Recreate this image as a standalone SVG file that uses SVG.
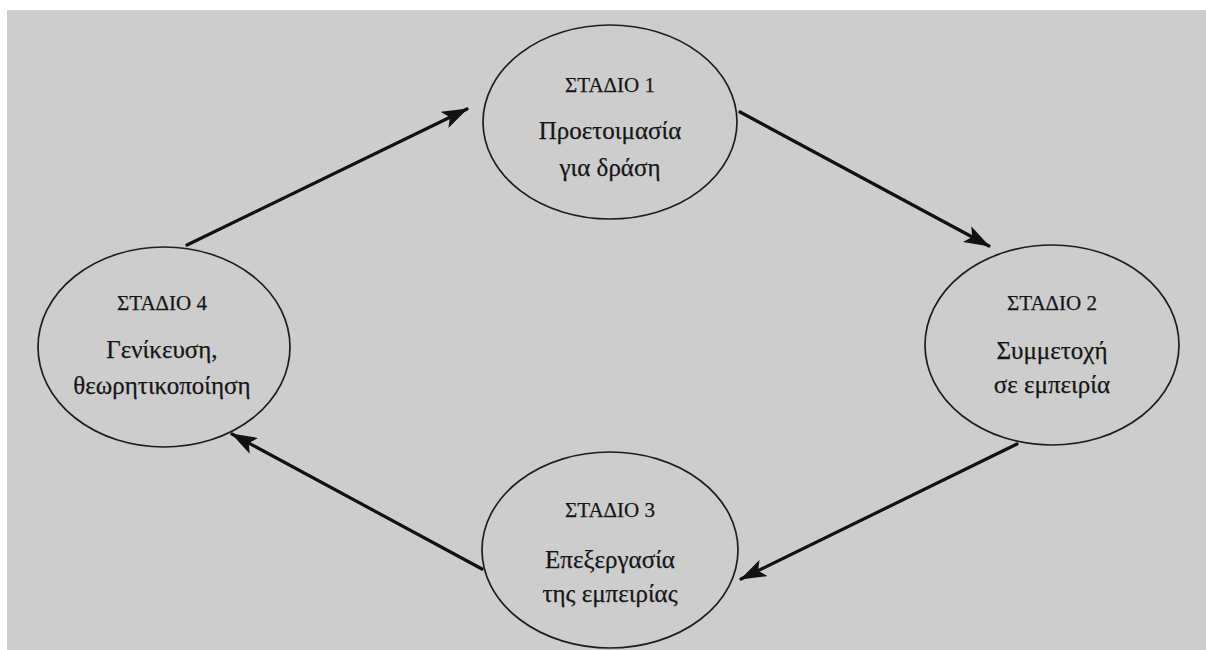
<svg xmlns="http://www.w3.org/2000/svg" width="1206" height="650" viewBox="0 0 1206 650">
<style>
.bg{fill:#cdcdcd}
.node ellipse{fill:#cdcdcd;stroke:#1e1e1e;stroke-width:1.7}
.t{font-family:"Liberation Serif","DejaVu Serif",serif;fill:#161616;stroke:#161616;stroke-width:0.25;text-anchor:middle}
.h{font-size:21px}
.b{font-size:25px}
.conn line{stroke:#111;stroke-width:3.2;stroke-linecap:round}
</style>
<defs>
<marker id="ah" viewBox="0 0 26 18" refX="25" refY="9" markerUnits="userSpaceOnUse" markerWidth="26" markerHeight="18" orient="auto">
<path d="M0,0 L26,9 L0,18 L6,9 Z" fill="#111"/>
</marker>
</defs>
<rect x="0" y="0" width="1206" height="650" fill="#ffffff"/>
<rect class="bg" x="7" y="10" width="1199" height="640"/>
<g class="conn">
<line x1="187" y1="245" x2="467" y2="109" marker-end="url(#ah)"/>
<line x1="740" y1="112" x2="989" y2="246" marker-end="url(#ah)"/>
<line x1="1017" y1="444" x2="741" y2="579" marker-end="url(#ah)"/>
<line x1="482" y1="569" x2="232" y2="434" marker-end="url(#ah)"/>
</g>
<g id="stage1" class="node">
<ellipse cx="610" cy="122" rx="127" ry="97"/>
<text class="t h" x="610" y="92">ΣΤΑΔΙΟ 1</text>
<text class="t b" x="610" y="139">Προετοιμασία</text>
<text class="t b" x="610" y="176">για δράση</text>
</g>
<g id="stage2" class="node">
<ellipse cx="1052" cy="345" rx="127" ry="100"/>
<text class="t h" x="1052" y="310">ΣΤΑΔΙΟ 2</text>
<text class="t b" x="1052" y="359">Συμμετοχή</text>
<text class="t b" x="1052" y="393">σε εμπειρία</text>
</g>
<g id="stage3" class="node">
<ellipse cx="610" cy="550" rx="128" ry="98"/>
<text class="t h" x="610" y="517">ΣΤΑΔΙΟ 3</text>
<text class="t b" x="610" y="568">Επεξεργασία</text>
<text class="t b" x="610" y="602">της εμπειρίας</text>
</g>
<g id="stage4" class="node">
<ellipse cx="164" cy="347" rx="126" ry="100"/>
<text class="t h" x="162" y="310">ΣΤΑΔΙΟ 4</text>
<text class="t b" x="162" y="358">Γενίκευση,</text>
<text class="t b" x="162" y="394">θεωρητικοποίηση</text>
</g>
</svg>
